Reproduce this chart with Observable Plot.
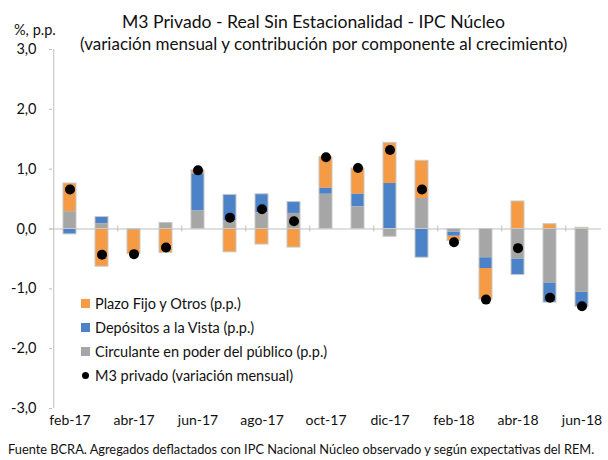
<!DOCTYPE html>
<html><head><meta charset="utf-8">
<script src="https://cdn.jsdelivr.net/npm/d3@7"></script>
<script src="https://cdn.jsdelivr.net/npm/@observablehq/plot@0.6"></script>
<style>
html,body{margin:0;padding:0;background:#fff;}
#wrap{position:relative;width:608px;height:460px;overflow:hidden;font-family:Lato,"Open Sans",sans-serif;color:#111;}
#chart{position:absolute;left:0;top:0;}
.t{position:absolute;white-space:nowrap;line-height:1.2;}
#title{left:122px;top:11px;font-size:17.6px;}
#subtitle{left:80px;top:34px;font-size:17px;}
#ylab{left:14px;top:21px;font-size:14.5px;}
#caption{left:8px;top:442px;font-size:12.8px;}
#legend{position:absolute;left:81px;top:291px;font-size:14.5px;}
#legend .row{height:24px;display:flex;align-items:center;}
#legend .sw{width:9px;height:9px;margin-right:5px;}
#legend .dt{width:7px;height:7px;border-radius:50%;background:#000;margin:0 6px 0 1px;}
</style></head><body>
<div id="wrap">
  <div id="chart"></div>
  <div class="t" id="title"></div>
  <div class="t" id="subtitle"></div>
  <div class="t" id="ylab"></div>
  <div class="t" id="caption"></div>
  <div id="legend"></div>
</div>
<script>
const titleText = "M3 Privado - Real Sin Estacionalidad - IPC Núcleo";
const subtitleText = "(variación mensual y contribución por componente al crecimiento)";
const yLabelText = "%, p.p.";
const captionText = "Fuente BCRA. Agregados deflactados con IPC Nacional Núcleo observado y según expectativas del REM.";

const months = ["feb-17","mar-17","abr-17","may-17","jun-17","jul-17","ago-17","sep-17","oct-17","nov-17","dic-17","ene-18","feb-18","mar-18","abr-18","may-18","jun-18"];
const labelMonths = ["feb-17","abr-17","jun-17","ago-17","oct-17","dic-17","feb-18","abr-18","jun-18"];
const yTicks = [-3, -2, -1, 0, 1, 2, 3];

const seriesNames = ["Plazo Fijo y Otros (p.p.)", "Depósitos a la Vista (p.p.)", "Circulante en poder del público (p.p.)"];
const dotName = "M3 privado (variación mensual)";
const seriesColors = ["#F59B46", "#4B82C8", "#A6A6A6"];

const plazoFijo  = [0.47,-0.63,-0.40,-0.40,0.06,-0.39,-0.26,-0.31,0.52,0.43,0.68,0.63,-0.08,-0.52,0.46,0.08,0.02];
const depositos  = [-0.09,0.11,0.00,0.00,0.62,0.44,0.31,0.19,0.10,0.21,0.76,-0.48,-0.07,-0.18,-0.27,-0.33,-0.24];
const circulante = [0.29,0.09,-0.02,0.10,0.30,0.13,0.27,0.26,0.58,0.37,-0.13,0.51,-0.05,-0.48,-0.50,-0.90,-1.06];
const m3         = [0.66,-0.43,-0.42,-0.31,0.98,0.19,0.33,0.13,1.20,1.02,1.32,0.66,-0.22,-1.18,-0.32,-1.15,-1.29];

const seriesValues = [plazoFijo, depositos, circulante];
const stackOrder = [seriesNames[2], seriesNames[1], seriesNames[0]];

const rows = months.flatMap((m, i) => seriesNames.map((s, k) => ({month: m, serie: s, value: seriesValues[k][i]})));
const totals = months.map((m, i) => {
  const vals = seriesValues.map(v => v[i]);
  return {month: m, pos: d3.sum(vals.filter(v => v > 0)), neg: d3.sum(vals.filter(v => v < 0))};
});
const dots = months.map((m, i) => ({month: m, value: m3[i]}));

const W = 608, H = 440, ML = 49, MR = 7, MT = 49, MB = 32;
const step = (W - ML - MR) / months.length;
const fmt = d => d.toFixed(1).replace(".", ",");
const lineColor = "#bfbfbf";

const chart = Plot.plot({
  width: W, height: H,
  marginTop: MT, marginBottom: MB, marginLeft: ML, marginRight: MR,
  style: {fontFamily: "Lato, 'Open Sans', sans-serif", fontSize: "14.5px", color: "#111", background: "transparent"},
  x: {domain: months, paddingInner: 0.6, paddingOuter: 0.3, label: null},
  y: {domain: [-3, 3], label: null},
  color: {domain: seriesNames, range: seriesColors},
  marks: [
    Plot.ruleY([0], {stroke: lineColor}),
    Plot.ruleX(labelMonths.slice(1), {dx: -step / 2, y1: -0.05, y2: 0.05, stroke: lineColor}),
    Plot.ruleX([months[0]], {dx: -step / 2, y1: -3, y2: 3, stroke: lineColor}),
    Plot.barY(rows, Plot.stackY({x: "month", y: "value", fill: "serie", order: stackOrder})),
    Plot.barY(totals, {x: "month", y1: 0, y2: "pos", fill: "none", stroke: "#c8c8c8", strokeWidth: 1}),
    Plot.barY(totals, {x: "month", y1: 0, y2: "neg", fill: "none", stroke: "#c8c8c8", strokeWidth: 1}),
    Plot.dot(dots, {x: "month", y: "value", r: 5, fill: "#000"}),
    Plot.axisY({ticks: yTicks, tickSize: 3, dx: 3, tickPadding: 13, tickFormat: fmt, stroke: lineColor, fill: "#111", label: null}),
    Plot.axisX({ticks: labelMonths, tickSize: 0, tickPadding: 7, label: null, fill: "#111", fontSize: 14})
  ]
});
document.getElementById("chart").appendChild(chart);

document.getElementById("title").textContent = titleText;
document.getElementById("subtitle").textContent = subtitleText;
document.getElementById("ylab").textContent = yLabelText;
document.getElementById("caption").textContent = captionText;

const legend = document.getElementById("legend");
seriesNames.forEach((s, k) => {
  const r = document.createElement("div"); r.className = "row";
  const sw = document.createElement("span"); sw.className = "sw"; sw.style.background = seriesColors[k];
  const tx = document.createElement("span"); tx.textContent = s;
  r.appendChild(sw); r.appendChild(tx); legend.appendChild(r);
});
{
  const r = document.createElement("div"); r.className = "row";
  const dt = document.createElement("span"); dt.className = "dt";
  const tx = document.createElement("span"); tx.textContent = dotName;
  r.appendChild(dt); r.appendChild(tx); legend.appendChild(r);
}
</script>
</body></html>
